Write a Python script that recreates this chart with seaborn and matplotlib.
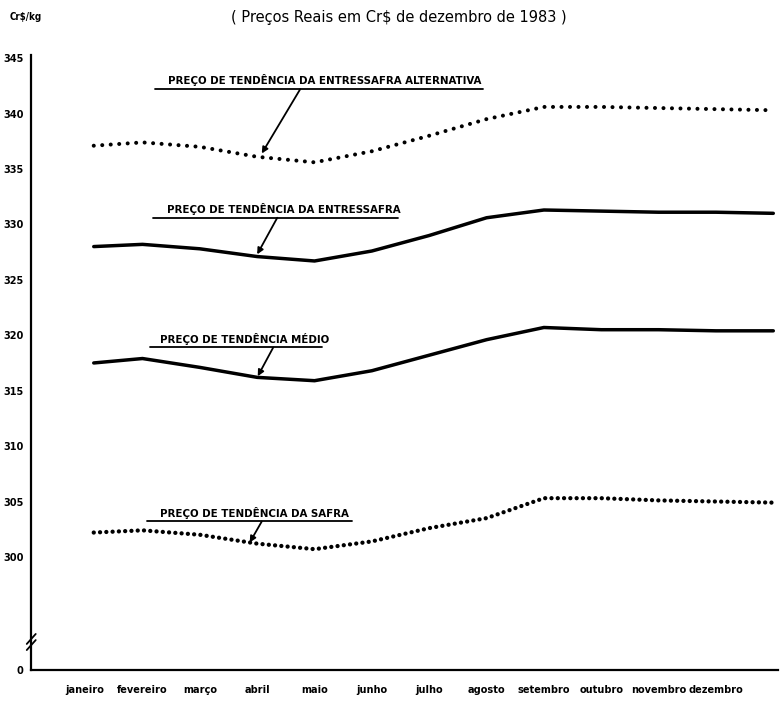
import matplotlib
matplotlib.use("Agg")
import pandas as pd
import matplotlib.pyplot as plt
import seaborn as sns

meses = ["janeiro", "fevereiro", "março", "abril", "maio", "junho", "julho",
         "agosto", "setembro", "outubro", "novembro", "dezembro"]
pos = [1.15, 2, 3, 4, 5, 6, 7, 8, 9, 10, 11, 12, 13.0]

alternativa = [337.1, 337.4, 337.0, 336.1, 335.6, 336.6, 338.0, 339.5, 340.6, 340.6, 340.5, 340.4, 340.3]
entressafra = [328.0, 328.2, 327.8, 327.1, 326.7, 327.6, 329.0, 330.6, 331.3, 331.2, 331.1, 331.1, 331.0]
medio = [317.5, 317.9, 317.1, 316.2, 315.9, 316.8, 318.2, 319.6, 320.7, 320.5, 320.5, 320.4, 320.4]
safra = [302.2, 302.4, 302.0, 301.2, 300.7, 301.4, 302.6, 303.5, 305.3, 305.3, 305.1, 305.0, 304.9]

yticks = [300, 305, 310, 315, 320, 325, 330, 335, 340, 345]
y_zero = 289.8  # position of the "0" after the axis break

df = pd.DataFrame({
    "pos": pos * 4,
    "valor": alternativa + entressafra + medio + safra,
    "serie": ["alt"] * 13 + ["entre"] * 13 + ["medio"] * 13 + ["safra"] * 13,
})

sns.set_style("white")
plt.rcParams["font.family"] = ["DejaVu Sans"]
plt.rcParams["font.stretch"] = "condensed"
plt.rcParams["text.color"] = "black"
plt.rcParams["xtick.color"] = "black"
plt.rcParams["ytick.color"] = "black"

fig = plt.figure(figsize=(7.81, 7.12), dpi=100)
ax = fig.add_axes([0.040, 0.059, 0.956, 0.864])

dotted_big = (0, (0.01, 2.1))
dotted_small = (0, (0.01, 1.45))
sns.lineplot(data=df[df.serie == "alt"], x="pos", y="valor", ax=ax, color="black",
             linewidth=2.9, linestyle=dotted_big, dash_capstyle="round")
sns.lineplot(data=df[df.serie == "entre"], x="pos", y="valor", ax=ax, color="black",
             linewidth=2.5, solid_capstyle="round")
sns.lineplot(data=df[df.serie == "medio"], x="pos", y="valor", ax=ax, color="black",
             linewidth=2.5, solid_capstyle="round")
sns.lineplot(data=df[df.serie == "safra"], x="pos", y="valor", ax=ax, color="black",
             linewidth=3.1, linestyle=dotted_small, dash_capstyle="round")

ax.set_xlim(0.06, 13.08)
ax.set_ylim(y_zero, 345.3)
ax.set_xticks(range(1, 13))
ax.set_xticklabels(meses)
ax.set_yticks([y_zero] + yticks)
ax.set_yticklabels(["0"] + [str(v) for v in yticks])
ax.set_xlabel("")
ax.set_ylabel("")
sns.despine(ax=ax)
for s in ["left", "bottom"]:
    ax.spines[s].set_linewidth(1.6)
    ax.spines[s].set_color("black")
ax.tick_params(axis="y", direction="out", length=4, width=1.3, pad=1.5, labelsize=7.8)
ax.tick_params(axis="x", direction="out", length=7, width=1.2, pad=4, labelsize=7.8)
for t in ax.get_xticklabels() + ax.get_yticklabels():
    t.set_fontweight("bold")

# axis break marks
tr = ax.get_yaxis_transform()
for dy in (0.0, 0.55):
    ax.plot([-0.006, 0.006], [291.6 + dy, 292.5 + dy], color="black", lw=1.3,
            transform=tr, clip_on=False)

# annotations with underline and arrow
notas = [
    ("PREÇO DE TENDÊNCIA DA ENTRESSAFRA ALTERNATIVA", 2.45, 2.22, 7.93, 342.2, (4.75, 4.08, 336.4)),
    ("PREÇO DE TENDÊNCIA DA ENTRESSAFRA", 2.43, 2.18, 6.45, 330.6, (4.35, 4.0, 327.3)),
    ("PREÇO DE TENDÊNCIA MÉDIO", 2.31, 2.13, 5.13, 318.9, (4.28, 4.01, 316.3)),
    ("PREÇO DE TENDÊNCIA DA SAFRA", 2.31, 2.08, 5.65, 303.2, (4.08, 3.87, 301.3)),
]
for txt, tx, x0, x1, yl, (ax0, ax1, ay1) in notas:
    ax.text(tx, yl + 0.25, txt, fontsize=8.2, fontweight="bold", ha="left", va="bottom")
    ax.plot([x0, x1], [yl, yl], color="black", lw=1.3)
    ax.annotate("", xy=(ax1, ay1), xytext=(ax0, yl),
                arrowprops=dict(arrowstyle="-|>", color="black", lw=1.3,
                                mutation_scale=9, shrinkA=0, shrinkB=0))

fig.text(0.511, 0.976, "( Preços Reais em Cr$ de dezembro de 1983 )", ha="center",
         va="center", fontsize=10.5, stretch="normal")
fig.text(0.012, 0.976, "Cr$/kg", ha="left", va="center", fontsize=7, fontweight="bold")

fig.savefig("out.png", dpi=100)
